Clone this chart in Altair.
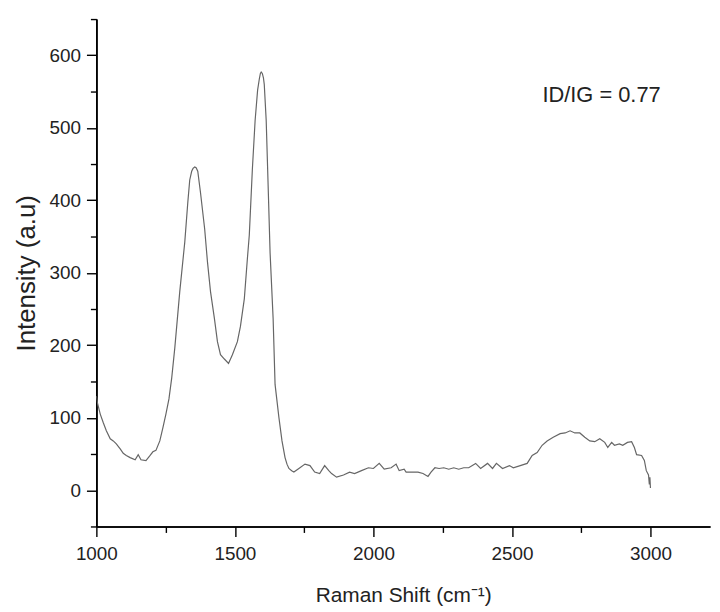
import altair as alt
import pandas as pd

raman_shift = [1000, 1004, 1014, 1025, 1036, 1050, 1061, 1072, 1086, 1097, 1108, 1122, 1140, 1151, 1161,
               1179, 1194, 1204, 1215, 1229, 1240, 1251, 1262, 1272, 1283, 1301, 1319, 1330, 1337, 1344,
               1349, 1355, 1360, 1366, 1376, 1391, 1401, 1412, 1426, 1437, 1448, 1462, 1477, 1491, 1509,
               1520, 1534, 1545, 1552, 1563, 1573, 1582, 1588, 1592, 1595, 1599, 1603, 1606, 1613, 1620,
               1627, 1638, 1645, 1659, 1670, 1681,
               1688, 1695, 1705, 1713, 1731, 1753, 1771, 1788, 1806, 1824, 1839, 1849, 1867, 1892, 1914,
               1932, 1957, 1982, 2000, 2021, 2039, 2064, 2082, 2093, 2111, 2118, 2136, 2161, 2179, 2197,
               2208, 2222, 2237, 2254, 2272, 2290, 2308, 2326, 2344, 2369, 2387, 2412, 2430, 2444, 2466,
               2491, 2505, 2530, 2555, 2573, 2591, 2609, 2627, 2649, 2674, 2692, 2710, 2727, 2745, 2763,
               2781, 2799, 2817, 2835, 2846, 2860, 2870, 2888, 2900, 2917, 2932, 2942, 2950, 2968, 2978,
               2985, 2993, 2996, 2998, 3000]
intensity = [130, 120, 105, 93, 82, 71, 68, 64, 57, 51, 48, 45, 42, 49, 42,
             41, 48, 53, 55, 68, 86, 105, 126, 155, 196, 274, 342, 397, 428, 440,
             444, 446, 445, 440, 410, 360, 315, 274, 237, 205, 187, 181, 175, 187, 205,
             226, 264, 319, 352, 442, 510, 552, 567, 575, 577, 575, 569, 560, 510, 420,
             328, 237, 146, 100, 68, 45,
             36, 30, 27, 25, 30, 36, 34, 25, 23, 34, 27, 23, 18, 21, 25,
             23, 27, 31, 30, 37, 29, 31, 36, 27, 29, 25, 25, 25, 23, 19,
             25, 31, 30, 31, 29, 31, 29, 31, 31, 37, 30, 37, 30, 37, 30,
             34, 31, 34, 37, 48, 52, 62, 68, 73, 78, 79, 82, 79, 79, 73,
             68, 67, 71, 66, 59, 66, 62, 64, 62, 66, 67, 59, 49, 48, 41,
             27, 21, 8, 18, 3]

label_text = ["ID/IG = 0.77"]
label_x = [2610]
label_y = [545]

x_major_ticks = [1000, 1500, 2000, 2500, 3000]
x_minor_ticks = [1250, 1750, 2250, 2750]
y_major_ticks = [0, 100, 200, 300, 400, 500, 600]
y_minor_ticks = [-50, 50, 150, 250, 350, 450, 550, 650]

FONT = "Liberation Sans"

spectrum = pd.DataFrame({"shift": raman_shift, "intensity": intensity})
note = pd.DataFrame({"x": label_x, "y": label_y, "t": label_text})

x_scale = alt.Scale(domain=[1000, 3215], nice=False, zero=False)
y_scale = alt.Scale(domain=[-50, 650], nice=False, zero=False)

common = dict(grid=False, domainColor="#000", domainWidth=1.6, tickColor="#000", tickWidth=1.4)

x_axis = alt.Axis(
    title="Raman Shift (cm⁻¹)", orient="bottom",
    values=x_major_ticks, format="d", tickSize=10, labelFlush=False,
    labelFont=FONT, labelFontSize=19, labelColor="#222", labelPadding=8,
    titleFont=FONT, titleFontSize=21, titleFontWeight="normal", titleColor="#222", titlePadding=22,
    **common,
)
y_axis = alt.Axis(
    title="Intensity (a.u)", orient="left",
    values=y_major_ticks, format="d", tickSize=10, labelFlush=False,
    labelFont=FONT, labelFontSize=19, labelColor="#222", labelPadding=6,
    titleFont=FONT, titleFontSize=26, titleFontWeight="normal", titleColor="#222", titlePadding=10,
    **common,
)
x_minor_axis = alt.Axis(title=None, orient="bottom", values=x_minor_ticks, labels=False,
                        tickSize=6, **common)
y_minor_axis = alt.Axis(title=None, orient="left", values=y_minor_ticks, labels=False,
                        tickSize=6, **common)

line = alt.Chart(spectrum).mark_line(color="#666", strokeWidth=1.2, clip=True).encode(
    x=alt.X("shift:Q", scale=x_scale, axis=x_axis),
    y=alt.Y("intensity:Q", scale=y_scale, axis=y_axis),
)

text = alt.Chart(note).mark_text(
    align="left", baseline="middle", font=FONT, fontSize=22, color="#222"
).encode(
    x=alt.X("x:Q", scale=x_scale, axis=x_minor_axis),
    y=alt.Y("y:Q", scale=y_scale, axis=y_minor_axis),
    text="t:N",
)

chart = alt.layer(line, text).resolve_axis(x="independent", y="independent").properties(
    width=618, height=511,
    padding={"left": 5, "top": 8, "right": 2, "bottom": 5},
).configure_view(stroke=None)

chart.save("out.html", embed_options={"renderer": "svg", "actions": False})
